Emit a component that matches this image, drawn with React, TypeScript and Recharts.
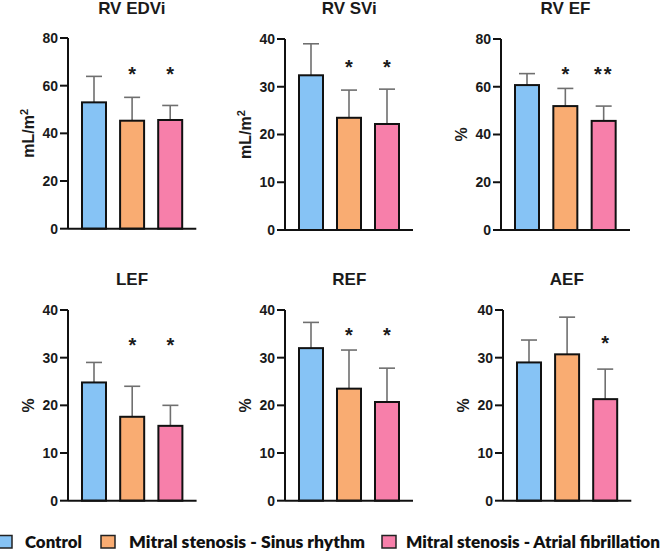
import React from 'react';
import { ComposedChart, Bar, Line, XAxis, YAxis, Cell } from 'recharts';

// ---------- data ----------
const groups = ['Control', 'Mitral stenosis - Sinus rhythm', 'Mitral stenosis - Atrial fibrillation'];
const groupColors = ['#86C3F5', '#F9AC72', '#F77FAA'];

const ticks80 = [0, 20, 40, 60, 80];
const ticks40 = [0, 10, 20, 30, 40];

const rvEdviMean = [53.0, 45.3, 45.6];
const rvEdviSd = [10.9, 9.8, 6.1];
const rvEdviSig = ['', '*', '*'];

const rvSviMean = [32.4, 23.5, 22.2];
const rvSviSd = [6.6, 5.8, 7.3];
const rvSviSig = ['', '*', '*'];

const rvEfMean = [60.7, 51.9, 45.7];
const rvEfSd = [4.8, 7.4, 6.2];
const rvEfSig = ['', '*', '**'];

const lefMean = [24.8, 17.6, 15.7];
const lefSd = [4.2, 6.4, 4.3];
const lefSig = ['', '*', '*'];

const refMean = [32.0, 23.5, 20.7];
const refSd = [5.4, 8.1, 7.1];
const refSig = ['', '*', '*'];

const aefMean = [29.0, 30.7, 21.3];
const aefSd = [4.7, 7.8, 6.3];
const aefSig = ['', '', '*'];

// star heights (data units)
const starLevels = [66.7, 35.0, 67.0, 33.6, 35.5, 33.9];

const FONT = "'Liberation Sans', Arial, Helvetica, sans-serif";
const LEGEND_FONT = "Lato, 'Open Sans', sans-serif";

const panels = [
  { title: 'RV EDVi', unit: 'mL/m', sup: '2', mean: rvEdviMean, sd: rvEdviSd, sig: rvEdviSig, star: starLevels[0], max: 80, ticks: ticks80, axisX: 67.7, right: 196, top: 38.3, bottom: 229, titleY: 14 },
  { title: 'RV SVi', unit: 'mL/m', sup: '2', mean: rvSviMean, sd: rvSviSd, sig: rvSviSig, star: starLevels[1], max: 40, ticks: ticks40, axisX: 285.3, right: 413.3, top: 39, bottom: 230, titleY: 14 },
  { title: 'RV EF', unit: '%', sup: '', mean: rvEfMean, sd: rvEfSd, sig: rvEfSig, star: starLevels[2], max: 80, ticks: ticks80, axisX: 501, right: 630, top: 39, bottom: 230, titleY: 14 },
  { title: 'LEF', unit: '%', sup: '', mean: lefMean, sd: lefSd, sig: lefSig, star: starLevels[3], max: 40, ticks: ticks40, axisX: 67.7, right: 196.3, top: 310, bottom: 500.7, titleY: 285 },
  { title: 'REF', unit: '%', sup: '', mean: refMean, sd: refSd, sig: refSig, star: starLevels[4], max: 40, ticks: ticks40, axisX: 285.3, right: 413.3, top: 310, bottom: 500.7, titleY: 285 },
  { title: 'AEF', unit: '%', sup: '', mean: aefMean, sd: aefSd, sig: aefSig, star: starLevels[5], max: 40, ticks: ticks40, axisX: 502.7, right: 631, top: 310, bottom: 500.7, titleY: 285 },
];

// ---------- custom pieces ----------
const BarWithError = (props: any) => {
  const { x, y, width, height, fill, payload } = props;
  if (x == null || y == null || !payload) return null;
  const k = payload.mean ? height / payload.mean : 0;
  const topY = y - payload.sd * k;
  const cx = x + width / 2;
  return (
    <g>
      <line x1={cx} x2={cx} y1={y} y2={topY} stroke="#6f6f6f" strokeWidth={1.6} />
      <line x1={cx - 8} x2={cx + 8} y1={topY} y2={topY} stroke="#6f6f6f" strokeWidth={1.6} />
      <rect x={x} y={y} width={width} height={height} fill={fill} stroke="#111" strokeWidth={2} />
    </g>
  );
};

const YTitle = (props: any) => {
  const { viewBox, unit, sup } = props;
  if (!viewBox) return null;
  const cx = viewBox.x + viewBox.width - 34;
  const cy = viewBox.y + viewBox.height / 2;
  return (
    <text
      transform={`translate(${cx},${cy}) rotate(-90)`}
      textAnchor="middle"
      fontFamily={FONT}
      fontWeight={700}
      fontSize={16}
      fill="#1a1a1a"
    >
      {unit}
      {sup ? (
        <tspan dy={-6} fontSize={11}>
          {sup}
        </tspan>
      ) : null}
    </text>
  );
};

const makeStarLabel = (sig: string[]) => (props: any) => {
  const { x, y, index } = props;
  if (x == null || y == null || !sig[index]) return null;
  return (
    <text
      key={`star-${index}`}
      x={x}
      y={y + 11}
      textAnchor="middle"
      fontFamily={FONT}
      fontWeight={700}
      fontSize={20}
      letterSpacing={sig[index].length > 1 ? 2 : 0}
      fill="#1a1a1a"
    >
      {sig[index]}
    </text>
  );
};

const YW = 60;
const TOPM = 20;
const XH = 15;
const RM = 10;

const Panel = ({ p }: { p: any }) => {
  const data = groups.map((g, i) => ({
    group: g,
    mean: p.mean[i],
    sd: p.sd[i],
    star: p.sig[i] ? p.star : null,
  }));
  const plotW = p.right - p.axisX;
  const plotH = p.bottom - p.top;
  const chartW = YW + plotW + RM;
  const chartH = TOPM + plotH + XH;
  return (
    <div style={{ position: 'absolute', left: p.axisX - YW, top: p.top - TOPM }}>
      <ComposedChart width={chartW} height={chartH} data={data} margin={{ top: TOPM, right: RM, bottom: 0, left: 0 }}>
        <XAxis
          dataKey="group"
          tick={false}
          tickSize={8}
          height={XH}
          padding={{ left: 7, right: 7 }}
          axisLine={{ stroke: '#111', strokeWidth: 2 }}
          tickLine={{ stroke: '#111', strokeWidth: 2 }}
        />
        <YAxis
          type="number"
          domain={[0, p.max]}
          ticks={p.ticks}
          interval={0}
          width={YW}
          tickSize={8}
          tickMargin={2}
          axisLine={{ stroke: '#111', strokeWidth: 2 }}
          tickLine={{ stroke: '#111', strokeWidth: 2 }}
          tick={{ fill: '#1a1a1a', fontSize: 14, fontWeight: 700, fontFamily: FONT }}
          label={<YTitle unit={p.unit} sup={p.sup} />}
        />
        <Bar dataKey="mean" barSize={24} shape={<BarWithError />} isAnimationActive={false}>
          {data.map((d, i) => (
            <Cell key={d.group} fill={groupColors[i]} />
          ))}
        </Bar>
        <Line
          dataKey="star"
          stroke="none"
          dot={false}
          activeDot={false}
          isAnimationActive={false}
          label={makeStarLabel(p.sig)}
        />
      </ComposedChart>
    </div>
  );
};

const legendLayout = [
  { rectX: -2, textX: 25, textW: 57 },
  { rectX: 101, textX: 129, textW: 236 },
  { rectX: 382, textX: 406, textW: 254 },
];

export default function App() {
  return (
    <div
      style={{
        position: 'fixed',
        left: 0,
        top: 0,
        width: 669,
        height: 552,
        overflow: 'hidden',
        background: '#fff',
      }}
    >
      {panels.map((p) => (
        <Panel key={p.title} p={p} />
      ))}
      <svg width={669} height={552} style={{ position: 'absolute', left: 0, top: 0, pointerEvents: 'none' }}>
        {panels.map((p) => (
          <text
            key={p.title}
            x={(p.axisX + p.right) / 2}
            y={p.titleY}
            textAnchor="middle"
            fontFamily={FONT}
            fontWeight={700}
            fontSize={17}
            fill="#1a1a1a"
          >
            {p.title}
          </text>
        ))}
        {groups.map((g, i) => (
          <g key={g}>
            <rect x={legendLayout[i].rectX} y={535.5} width={14} height={12.5} fill={groupColors[i]} stroke="#222" strokeWidth={1.5} />
            <text
              x={legendLayout[i].textX}
              y={548}
              fontFamily={LEGEND_FONT}
              fontWeight={800}
              fontSize={17.5}
              textLength={legendLayout[i].textW}
              lengthAdjust="spacingAndGlyphs"
              fill="#111"
            >
              {g}
            </text>
          </g>
        ))}
      </svg>
    </div>
  );
}
